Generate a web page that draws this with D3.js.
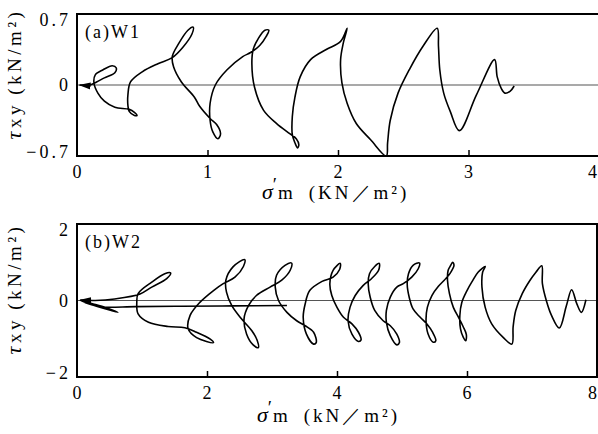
<!DOCTYPE html>
<html>
<head>
<meta charset="utf-8">
<script src="https://cdnjs.cloudflare.com/ajax/libs/d3/7.8.5/d3.min.js"></script>
<style>
body { margin:0; background:#fff; }
text { font-family: "Liberation Serif", "DejaVu Serif", serif; fill:#000; }
</style>
</head>
<body>
<div id="chart"></div>
<script>
// stress paths, [sigma'm, tau_xy] (right end first)
var pathW1 = [
[3.35,-0.01],[3.32,-0.06],[3.28,-0.08],[3.25,-0.03],[3.22,0.08],[3.20,0.25],
[3.06,-0.10],[2.93,-0.45],
[2.86,-0.26],[2.81,-0.08],[2.78,0.15],[2.77,0.38],[2.76,0.56],
[2.65,0.38],[2.55,0.16],[2.46,-0.08],[2.40,-0.35],[2.38,-0.57],[2.37,-0.70],
[2.25,-0.54],[2.14,-0.38],[2.07,-0.18],[2.03,0.02],[2.02,0.25],[2.04,0.41],[2.07,0.56],
[2.02,0.43],[1.91,0.35],[1.79,0.25],[1.71,0.08],[1.67,-0.12],[1.65,-0.31],[1.65,-0.49],
[1.67,-0.57],[1.69,-0.62],[1.70,-0.59],[1.68,-0.53],[1.63,-0.48],
[1.53,-0.38],[1.43,-0.25],[1.36,-0.02],[1.34,0.21],[1.35,0.35],[1.39,0.46],[1.44,0.54],[1.47,0.54],[1.45,0.48],[1.40,0.39],[1.33,0.32],
[1.27,0.28],[1.15,0.15],[1.06,0.00],[1.02,-0.18],[1.02,-0.35],[1.04,-0.46],[1.08,-0.53],[1.10,-0.48],[1.07,-0.39],[1.02,-0.33],
[0.94,-0.21],[0.90,-0.12],[0.80,0.03],[0.74,0.18],[0.73,0.28],[0.78,0.41],[0.85,0.54],[0.89,0.57],[0.88,0.50],[0.81,0.37],[0.73,0.27],
[0.62,0.21],[0.50,0.13],[0.41,0.03],[0.39,-0.10],[0.39,-0.20],[0.40,-0.26],[0.44,-0.30],[0.46,-0.30],[0.44,-0.27],[0.40,-0.24],
[0.29,-0.22],[0.21,-0.16],[0.16,-0.08],[0.13,0.02],[0.14,0.10],[0.20,0.15],[0.27,0.19],[0.30,0.17],[0.29,0.12],[0.21,0.07],[0.15,0.03],[0.10,0.00],[0.02,0.00]
];

var pathW2 = [
[7.83,0.02],[7.76,-0.31],[7.69,-0.09],[7.61,0.28],[7.53,-0.13],[7.42,-0.72],
[7.30,-0.39],[7.22,0.00],[7.16,0.44],[7.15,0.91],
[7.06,0.74],[6.97,0.53],[6.85,0.18],[6.75,-0.26],[6.71,-0.68],[6.69,-1.14],
[6.56,-0.97],[6.38,-0.61],[6.28,-0.18],[6.23,0.35],[6.24,0.74],[6.28,0.89],
[6.17,0.74],[6.08,0.50],[6.00,0.26],[5.92,-0.05],[5.89,-0.39],[5.90,-0.74],
[5.94,-0.95],[5.98,-1.05],[5.99,-0.89],[5.94,-0.68],
[5.87,-0.44],[5.79,-0.18],[5.73,0.18],[5.70,0.53],[5.71,0.79],[5.74,0.89],[5.78,1.00],[5.80,0.92],[5.74,0.71],
[5.65,0.53],[5.56,0.37],[5.46,0.13],[5.39,-0.18],[5.37,-0.53],[5.40,-0.87],[5.48,-1.09],[5.52,-1.05],[5.47,-0.83],[5.38,-0.61],
[5.28,-0.44],[5.17,-0.22],[5.11,0.09],[5.08,0.44],[5.10,0.70],[5.17,0.92],[5.27,0.98],[5.25,0.83],[5.15,0.61],
[5.02,0.44],[4.92,0.35],[4.82,0.09],[4.76,-0.26],[4.76,-0.57],[4.82,-0.92],[4.92,-1.16],[4.96,-1.10],[4.92,-0.88],[4.82,-0.66],
[4.71,-0.53],[4.58,-0.26],[4.51,0.09],[4.48,0.44],[4.50,0.70],[4.58,0.89],[4.65,0.97],[4.64,0.79],[4.53,0.57],
[4.40,0.39],[4.28,0.13],[4.20,-0.18],[4.17,-0.53],[4.23,-0.88],[4.33,-1.07],[4.37,-1.03],[4.33,-0.83],[4.23,-0.61],
[4.10,-0.44],[4.00,-0.18],[3.92,0.13],[3.89,0.44],[3.94,0.79],[4.05,0.97],[4.04,0.81],[3.94,0.61],
[3.77,0.50],[3.58,0.26],[3.51,-0.09],[3.48,-0.44],[3.53,-0.88],[3.64,-1.14],[3.68,-1.10],[3.64,-0.83],[3.51,-0.66],
[3.38,-0.53],[3.23,-0.31],[3.10,0.00],[3.05,0.35],[3.07,0.66],[3.20,0.92],[3.30,0.98],[3.28,0.79],[3.15,0.53],
[2.97,0.35],[2.76,0.13],[2.64,-0.13],[2.57,-0.48],[2.61,-0.88],[2.71,-1.16],[2.79,-1.23],[2.77,-1.03],[2.69,-0.79],
[2.51,-0.44],[2.38,-0.13],[2.30,0.22],[2.29,0.53],[2.40,0.88],[2.58,1.07],[2.56,0.89],[2.43,0.61],
[2.25,0.44],[2.10,0.26],[1.89,-0.05],[1.74,-0.39],[1.71,-0.74],[1.84,-0.97],[2.10,-1.10],[2.05,-1.01],[1.84,-0.83],
[1.66,-0.71],[1.40,-0.68],[1.10,-0.57],[0.94,-0.35],[0.92,-0.04],[0.94,0.18],[1.15,0.48],[1.35,0.70],[1.44,0.72],[1.38,0.57],[1.15,0.35],[0.97,0.17],
[0.58,0.04],[0.28,0.00],[0.05,0.01]
];

// the flat line and small loop near the origin in W2
var tailW2 = [
[3.23,-0.13],[2.40,-0.14],[1.60,-0.15],[0.90,-0.16],[0.40,-0.17],[0.30,-0.13],[0.15,-0.06],[0.05,0.00],
[0.25,-0.09],[0.45,-0.19],[0.63,-0.31],[0.50,-0.25],[0.30,-0.15],[0.12,-0.05]
];

var xTicksA = [0,1,2,3,4];
var yTicksA = [0.7,0,-0.7];
var yLabelsA = ["0.7","0","\u22120.7"];
var xTicksB = [0,2,4,6,8];
var yTicksB = [2,0,-2];
var yLabelsB = ["2","0","\u22122"];

var W = 598, H = 434;

var svg = d3.select("#chart").append("svg")
	.attr("width", W)
	.attr("height", H);

var defs = svg.append("defs");
defs.append("marker")
	.attr("id", "arr")
	.attr("markerUnits", "userSpaceOnUse")
	.attr("viewBox", "0 -4 12 8")
	.attr("refX", 11)
	.attr("refY", 0)
	.attr("markerWidth", 12)
	.attr("markerHeight", 8)
	.attr("orient", "auto")
	.append("path")
	.attr("d", "M0,-3.5L12,0L0,3.5Z")
	.attr("fill", "#000");

function drawPanel(o) {
	var x = d3.scaleLinear().domain(o.xDomain).range([o.left, o.right]);
	var y = d3.scaleLinear().domain(o.yDomain).range([o.bottom, o.top]);
	var g = svg.append("g");

	// zero line
	g.append("line")
		.attr("x1", o.left).attr("x2", o.right)
		.attr("y1", y(0)).attr("y2", y(0))
		.attr("stroke", "#555").attr("stroke-width", 1.2);

	var line = d3.line()
		.x(function(d){ return x(d[0]) })
		.y(function(d){ return y(d[1]) })
		.curve(d3.curveCatmullRom.alpha(0.5));

	o.paths.forEach(function(p, i) {
		g.append("path")
			.attr("d", line(p))
			.attr("fill", "none")
			.attr("stroke", "#000")
			.attr("stroke-width", 1.6)
			.attr("stroke-linejoin", "round")
			.attr("marker-end", i == 0 ? "url(#arr)" : null);
	});

	// frame
	g.append("rect")
		.attr("x", o.left).attr("y", o.top)
		.attr("width", o.right - o.left).attr("height", o.bottom - o.top)
		.attr("fill", "none").attr("stroke", "#000").attr("stroke-width", 2);

	// inner ticks on the bottom axis
	var xAxis = d3.axisBottom(x).tickValues(o.xTicks.slice(1, -1)).tickSize(-6).tickFormat("");
	g.append("g")
		.attr("transform", "translate(0," + o.bottom + ")")
		.call(xAxis)
		.call(function(a){ a.select(".domain").remove(); a.selectAll("line").attr("stroke-width", 1.5); });

	// tick labels (last one is at the page edge, keep it inside)
	var n = o.xTicks.length;
	g.selectAll(".xl").data(o.xTicks).enter().append("text")
		.attr("x", function(d, i){ return i == n - 1 ? W - 1 : x(d) })
		.attr("y", o.bottom + 22)
		.attr("text-anchor", function(d, i){ return i == n - 1 ? "end" : "middle" })
		.attr("font-size", 18)
		.text(function(d){ return d });

	g.selectAll(".yl").data(o.yTicks).enter().append("text")
		.attr("x", o.left - 6)
		.attr("y", function(d, i){
			var off = i == 0 ? 6 : (i == o.yTicks.length - 1 ? -4 : 0);
			return y(d) + off;
		})
		.attr("dy", "0.35em")
		.attr("text-anchor", "end")
		.attr("font-size", 18)
		.attr("letter-spacing", 3)
		.text(function(d, i){ return o.yLabels[i] });

	// panel tag
	g.append("text")
		.attr("x", o.left + 8).attr("y", o.top + 24)
		.attr("font-size", 18)
		.attr("letter-spacing", 2)
		.text(o.tag);

	// x title
	var xt = g.append("text")
		.attr("x", o.xTitleX).attr("y", o.xTitleY)
		.attr("font-size", 19);
	xt.append("tspan").attr("font-style", "italic").attr("font-size", 22).text("\u03c3");
	xt.append("tspan").attr("dy", -8).attr("dx", 0).text("\u2032");
	xt.append("tspan").attr("dy", 8).attr("dx", 1).text("m");
	xt.append("tspan").attr("dx", 16).attr("letter-spacing", 3).text(o.xUnit);

	// y title
	var yt = g.append("text")
		.attr("transform", "translate(" + 21 + "," + o.yTitleY + ") rotate(-90)")
		.attr("text-anchor", "middle")
		.attr("font-size", 19)
		.attr("letter-spacing", 3.5);
	yt.append("tspan").attr("font-style", "italic").attr("font-size", 22).text("\u03c4");
	yt.append("tspan").text("xy\u2009(kN/m\u00b2)");
}

drawPanel({
	xDomain: [0, 4], yDomain: [-0.7, 0.7],
	left: 77, right: 599, top: 14, bottom: 156,
	xTicks: xTicksA, yTicks: yTicksA, yLabels: yLabelsA,
	paths: [pathW1], tag: "(a)W1",
	xTitleX: 262, xTitleY: 199, xUnit: "(KN\uff0fm\u00b2)",
	yTitleY: 74
});

drawPanel({
	xDomain: [0, 8], yDomain: [-2, 2],
	left: 77, right: 597, top: 224, bottom: 377,
	xTicks: xTicksB, yTicks: yTicksB, yLabels: yLabelsB,
	paths: [pathW2, tailW2], tag: "(b)W2",
	xTitleX: 257, xTitleY: 422, xUnit: "(kN\uff0fm\u00b2)",
	yTitleY: 289
});
</script>
</body>
</html>
